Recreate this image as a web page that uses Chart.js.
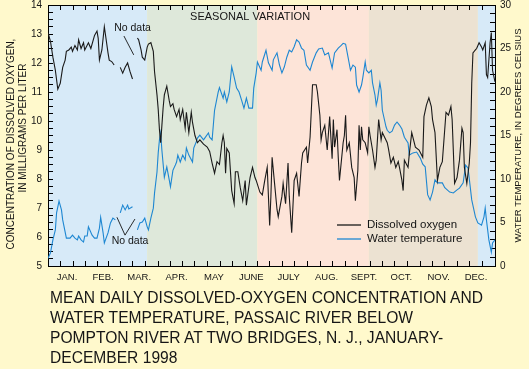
<!DOCTYPE html>
<html>
<head>
<meta charset="utf-8">
<script src="https://cdn.jsdelivr.net/npm/chart.js@4.4.1/dist/chart.umd.min.js"></script>
<style>
  html, body { margin: 0; padding: 0; background: #fff9cc; }
  #wrap { position: relative; width: 529px; height: 369px; overflow: hidden; }
  #caption { position: absolute; left: 50px; top: 288px; margin: 0; font: 15.6px "Liberation Sans", Arial, sans-serif; line-height: 20px; color: #161616; }
</style>
</head>
<body>
<div id="wrap">
  <canvas id="ctx" width="529" height="369"></canvas>
  <p id="caption">MEAN DAILY DISSOLVED-OXYGEN CONCENTRATION AND<br>WATER TEMPERATURE, PASSAIC RIVER BELOW<br>POMPTON RIVER AT TWO BRIDGES, N. J., JANUARY-<br>DECEMBER 1998</p>
</div>
<script>
const monthNames = ["JAN.", "FEB.", "MAR.", "APR.", "MAY", "JUNE", "JULY", "AUG.", "SEPT.", "OCT.", "NOV.", "DEC."];
const monthDays = [31, 28, 31, 30, 31, 30, 31, 31, 30, 31, 30, 31];
const oxygenTicks = [5, 6, 7, 8, 9, 10, 11, 12, 13, 14];
const tempTicks = [0, 5, 10, 15, 20, 25, 30];

// season boundaries, day of year
const seasonBreaks = [0, 81, 171, 262, 351, 365];

// dissolved oxygen, mg/L (null = no data)
const oxygenDays = [0, 2, 4, 6, 8, 10, 12, 14, 15, 17, 19, 20, 22, 24, 25, 27, 29, 30, 33, 35, 38, 40, 41, 42, 44, 46, 49, 50, 52, 54, 57,
  59, 61, 63, 65, 67, 69, 71,
  73, 74, 76, 77, 79, 81, 82, 84, 86, 87, 89, 90, 91, 92, 93, 94, 95, 97, 99, 100, 102, 103, 105, 107, 108, 110, 112, 113, 115, 117, 118, 120,
  122, 124, 127, 130, 132, 134, 136, 138, 140, 142, 143, 144, 145, 146, 148, 150, 152, 153, 155, 157, 159, 161, 162, 165, 167, 169, 170,
  173, 175, 177, 179, 180, 181, 182, 183, 185, 187, 188, 191, 192, 194, 196, 197, 199, 200, 201, 203, 205, 207, 208, 211, 212, 214, 216,
  219, 220, 222, 223, 224, 226, 228, 230, 232, 233, 234, 236, 237, 238, 241, 242, 243, 244, 246, 248, 250, 251, 253, 254, 255, 256, 257,
  259, 261, 262, 263, 265, 267, 268, 270, 272, 273, 277, 278, 280, 282, 284, 286, 287, 289, 290, 291, 294, 295, 297, 300, 303, 306, 307,
  309, 311, 313, 314, 316, 318, 320, 322, 325, 327, 329, 330, 332, 334, 336, 338, 339, 340, 342, 344, 345, 346, 347, 349, 350, 352, 354,
  355, 357, 358, 359, 361, 362, 363, 365];
const oxygenValues = [13.05, 12.75, 12.2, 11.75, 11.1, 11.3, 11.85, 12.1, 12.4, 12.45, 12.55, 12.4, 12.6, 12.45, 12.8, 12.5, 12.7, 12.45, 12.7, 12.5, 12.95, 13.1, 12.85, 12.1, 12.45, 13.25, 12.35, 12.1, 12.05, 11.93, null,
  11.85, 11.65, 11.85, 12.0, 11.7, 11.45, null,
  12.86, 12.8, 12.45, 12.2, 12.1, 12.55, 12.65, 12.7, 12.4, 11.7, 10.9, 10.4, 9.7, 9.25, 9.85, 10.45, 10.9, 11.2, 10.7, 10.5, 10.6, 10.4, 10.15, 10.4, 10.05, 10.4, 9.75, 10.3, 9.6, 10.3, 9.95, 9.5,
  9.25, 9.35, 9.2, 9.1, 8.95, 8.55, 8.2, 8.6, 8.5, 9.25, 9.5, 9.25, 8.2, 9.05, 8.9, 7.6, 7.15, 8.25, 8.25, 7.7, 7.25, 7.95, 7.1, 8.05, 8.4, 8.05, 7.95,
  7.55, 7.45, 7.95, 8.4, 7.4, 6.4, 7.4, 8.75, 7.85, 6.95, 6.7, 7.4, 7.85, 7.15, 8.55, 7.4, 6.15, 7.05, 7.95, 8.2, 7.4, 8.55, 8.9, 9.1, 8.55, 9.45, 11.25,
  11.25, 11.0, 10.2, 9.35, 9.6, 9.85, 9.0, 10.15, 8.7, 10.05, 9.1, 9.7, 8.75, 7.95, 9.25, 9.5, 10.2, 9.0, 9.25, 8.4, 8.05, 7.25, 8.3, 9.85, 9.0, 9.8, 9.35,
  9.25, 8.9, 9.8, 9.5, 9.0, 8.4, 8.65, 10.05, 9.35, 9.6, 9.25, 9.05, 8.55, 8.75, 8.4, 8.6, 8.4, 7.95, 7.6, 8.65, 8.4, 8.85, 9.6, 9.1, 9.0, 8.75, 10.15,
  10.55, 10.8, 10.5, 10.05, 9.6, 7.95, 8.4, 8.6, 10.3, 10.2, 10.5, 10.05, 7.85, 8.05, 8.65, 9.75, 9.6, 8.4, 7.85, 8.55, 9.25, 11.3, 12.35, 12.45, 12.5, 12.7, 12.55,
  12.45, 12.7, 11.6, 11.5, 12.7, 13.05, 11.75, 11.35];

// water temperature, degrees Celsius (null = no data)
const tempDays = [0, 2, 4, 6, 7, 9, 11, 12, 15, 18, 20, 22, 24, 25, 27, 29, 30, 32, 33, 36, 38, 40, 42, 43, 45, 46, 49, 51, 53, 55, 57,
  59, 61, 63, 65, 66, 69, 71,
  73, 75, 77, 79, 81, 82, 84, 86, 87, 89, 90, 91, 92, 93, 95, 97, 99, 100, 102, 104, 105, 106, 108, 110, 112, 113, 115, 118, 119, 121, 122,
  124, 127, 128, 131, 132, 134, 136, 139, 140, 143, 144, 146, 148, 150, 152, 154, 156, 158, 160, 162, 164, 167, 168, 170, 171, 174, 175,
  178, 180, 183, 184, 187, 189, 191, 193, 195, 197, 199, 201, 203, 205, 207, 209, 211, 214, 216, 219, 221, 224, 226, 229, 232, 234, 237,
  239, 241, 243, 245, 247, 249, 251, 252, 254, 256, 257, 259, 260, 262, 264, 265, 267, 268, 269, 271, 272, 273, 276, 277, 279, 281, 283,
  285, 287, 289, 291, 294, 295, 298, 301, 304, 306, 308, 310, 312, 314, 316, 318, 322, 324, 328, 331, 334, 336, 339, 341, 343, 346, 349,
  351, 354, 356, 357, 358, 360, 362, 363, 365];
const tempValues = [0.9, 1.5, 3.0, 4.15, 6.1, 7.45, 6.45, 5.3, 3.2, 3.2, 3.55, 3.2, 3.0, 3.45, 3.0, 2.75, 3.45, 3.45, 4.5, 3.55, 3.2, 3.2, 4.35, 5.6, 3.8, 2.65, 3.8, 4.95, 5.5, 5.3, null,
  6.1, 7.0, 6.45, 7.0, 6.55, 6.8, null,
  4.15, 4.95, 5.05, 5.5, 4.5, 4.15, 5.5, 6.65, 8.4, 10.8, 13.0, 14.5, 15.3, 13.3, 10.2, 11.4, 9.9, 9.1, 11.0, 11.6, 11.95, 12.75, 11.95, 12.75, 12.2, 13.55, 12.75, 11.95, 13.55, 14.25, 14.7,
  15.05, 14.5, 14.7, 15.3, 14.8, 14.5, 17.9, 20.0, 20.5, 19.3, 20.0, 18.85, 20.0, 22.9, 21.7, 20.45, 20.0, 19.1, 18.15, 19.3, 18.15, 18.15, 20.45, 22.2, 23.45, 22.5, 23.45,
  24.8, 23.35, 22.5, 23.7, 24.5, 23.1, 22.2, 22.9, 24.0, 24.8, 24.6, 25.2, 26.0, 25.75, 25.05, 24.8, 23.1, 22.5, 23.45, 24.5, 24.95, 25.05, 24.25, 24.5, 22.75, 24.5, 25.05,
  25.3, 25.6, 25.5, 24.0, 22.5, 23.1, 22.85, 20.8, 20.0, 20.8, 21.6, 23.45, 22.5, 22.2, 22.5, 21.05, 19.65, 18.5, 19.1, 21.05, 20.2, 17.9, 16.0, 15.6, 15.3, 15.5, 16.2,
  16.55, 16.2, 15.75, 14.8, 14.15, 12.75, 13.0, 13.1, 12.4, 11.7, 11.4, 8.2, 7.6, 8.5, 9.9, 9.55, 9.55, 9.0, 8.5, 8.4, 8.75, 8.95, 9.55, 11.6, 11.25, 7.6, 5.65,
  4.95, 4.7, 5.65, 6.65, 5.3, 3.0, 1.6, 2.65, 3.0];

const family = '"Liberation Sans", Arial, Helvetica, sans-serif';
const seasonColors = ["#d7eaf8", "#dee8da", "#fde4d8", "#ece2d2", "#d7eaf8"];

// month ticks: start, thirds, and an unmarked tick at mid-month carrying the label
const monthMids = [];
const xTickValues = [];
let acc = 0;
for (let i = 0; i < monthDays.length; i++) {
  const len = monthDays[i];
  monthMids.push(acc + len / 2);
  xTickValues.push(acc, acc + len / 3, acc + len / 2, acc + (2 * len) / 3);
  acc += len;
}
xTickValues.push(acc);

function midIndex(v) {
  for (let i = 0; i < monthMids.length; i++) {
    if (Math.abs(monthMids[i] - v) < 0.001) return i;
  }
  return -1;
}

function minorTicks(major, step) {
  const out = [];
  for (let i = 0; i < major.length - 1; i++) {
    for (let v = major[i]; v < major[i + 1] - 1e-9; v += step) out.push(v);
  }
  out.push(major[major.length - 1]);
  return out;
}

const xGrid = {
  drawOnChartArea: false,
  tickLength: -5,
  tickWidth: 1,
  tickColor: (c) => (c.tick && midIndex(c.tick.value) >= 0 ? "rgba(0,0,0,0)" : "#000"),
};

const overlay = {
  id: "overlay",
  beforeDraw(chart) {
    const { ctx, chartArea: a } = chart;
    const x = chart.scales.x;
    ctx.save();
    for (let i = 0; i < seasonColors.length; i++) {
      const x0 = x.getPixelForValue(seasonBreaks[i]);
      const x1 = x.getPixelForValue(seasonBreaks[i + 1]);
      ctx.fillStyle = seasonColors[i];
      ctx.fillRect(x0, a.top, x1 - x0, a.bottom - a.top);
    }
    ctx.restore();
  },
  afterDatasetsDraw(chart) {
    const { ctx, chartArea: a } = chart;
    const x = chart.scales.x;
    const y = chart.scales.y;
    const y2 = chart.scales.y2;
    ctx.save();
    ctx.fillStyle = "#151515";
    ctx.strokeStyle = "#151515";
    ctx.lineWidth = 0.9;
    ctx.textBaseline = "middle";

    ctx.font = "11px " + family;
    ctx.textAlign = "center";
    ctx.fillText("SEASONAL VARIATION", x.getPixelForValue(165), a.top + 12);

    ctx.font = "10.5px " + family;
    ctx.textAlign = "left";
    ctx.fillText("No data", x.getPixelForValue(54), y.getPixelForValue(13.2));
    ctx.beginPath();
    ctx.moveTo(x.getPixelForValue(62), y.getPixelForValue(12.93));
    ctx.lineTo(x.getPixelForValue(70), y.getPixelForValue(12.28));
    ctx.stroke();

    ctx.fillText("No data", x.getPixelForValue(52), y2.getPixelForValue(2.9));
    ctx.beginPath();
    ctx.moveTo(x.getPixelForValue(56.3), y2.getPixelForValue(5.6));
    ctx.lineTo(x.getPixelForValue(62.9), y2.getPixelForValue(3.55));
    ctx.lineTo(x.getPixelForValue(71), y2.getPixelForValue(5.4));
    ctx.stroke();

    // legend
    ctx.font = "11.5px " + family;
    const lx = a.right - 158;
    chart.data.datasets.forEach((ds, i) => {
      const ly = a.bottom - 41 + i * 14;
      ctx.strokeStyle = ds.borderColor;
      ctx.lineWidth = 1.3;
      ctx.beginPath();
      ctx.moveTo(lx, ly);
      ctx.lineTo(lx + 24, ly);
      ctx.stroke();
      ctx.fillText(ds.label, lx + 30, ly);
    });
    ctx.restore();
  },
  afterDraw(chart) {
    const { ctx, chartArea: a } = chart;
    ctx.save();
    ctx.fillStyle = "#151515";
    ctx.textAlign = "center";
    ctx.textBaseline = "middle";
    ctx.font = "10px " + family;
    ctx.translate(11, 144);
    ctx.rotate(-Math.PI / 2);
    ctx.fillText("CONCENTRATION OF DISSOLVED OXYGEN,", 0, 0);
    ctx.fillText("IN MILLIGRAMS PER LITER", 16, 12);
    ctx.restore();

    ctx.save();
    ctx.fillStyle = "#151515";
    ctx.textAlign = "center";
    ctx.textBaseline = "middle";
    ctx.font = "9.5px " + family;
    ctx.translate(a.right + 23, (a.top + a.bottom) / 2);
    ctx.rotate(-Math.PI / 2);
    ctx.fillText("WATER TEMPERATURE, IN DEGREES CELSIUS", 0, 0);
    ctx.restore();
  },
};

// keep the chart area tight against the frame: the y label padding
// would otherwise push the top of the plot down
function fixY(width) {
  return (s) => {
    s.width = width;
    s.paddingTop = 0;
    s.paddingBottom = 0;
  };
}

new Chart(document.getElementById("ctx"), {
  type: "line",
  data: {
    datasets: [
      {
        label: "Dissolved oxygen",
        data: oxygenDays.map((d, i) => ({ x: d, y: oxygenValues[i] })),
        borderColor: "#1a1a1a",
        borderWidth: 1.1,
        pointRadius: 0,
        tension: 0,
        spanGaps: false,
        yAxisID: "y",
        xAxisID: "x",
      },
      {
        label: "Water temperature",
        data: tempDays.map((d, i) => ({ x: d, y: tempValues[i] })),
        borderColor: "#1e87d2",
        borderWidth: 1.1,
        pointRadius: 0,
        tension: 0,
        spanGaps: false,
        yAxisID: "y2",
        xAxisID: "x",
      },
    ],
  },
  options: {
    responsive: false,
    devicePixelRatio: 1,
    animation: false,
    layout: { padding: 0 },
    plugins: { legend: { display: false }, tooltip: { enabled: false } },
    scales: {
      x: {
        type: "linear",
        position: "bottom",
        min: 0,
        max: 365,
        afterBuildTicks: (s) => { s.ticks = xTickValues.map((v) => ({ value: v })); },
        afterFit: (s) => { s.height = 103; },
        grid: xGrid,
        border: { display: true, color: "#000", width: 1 },
        ticks: {
          autoSkip: false,
          maxRotation: 0,
          padding: 11,
          color: "#151515",
          font: { family: family, size: 9.5 },
          callback: (v) => { const i = midIndex(v); return i >= 0 ? monthNames[i] : ""; },
        },
      },
      x2: {
        type: "linear",
        position: "top",
        min: 0,
        max: 365,
        afterBuildTicks: (s) => { s.ticks = xTickValues.map((v) => ({ value: v })); },
        afterFit: (s) => { s.height = 5; },
        grid: xGrid,
        border: { display: true, color: "#000", width: 1 },
        ticks: { display: false },
      },
      y: {
        position: "left",
        min: 5,
        max: 14,
        afterBuildTicks: (s) => { s.ticks = minorTicks(oxygenTicks, 0.25).map((v) => ({ value: v })); },
        afterFit: fixY(48),
        grid: { drawOnChartArea: false, tickLength: -5, tickColor: "#000" },
        border: { display: true, color: "#000", width: 1 },
        ticks: {
          autoSkip: false,
          padding: 11,
          color: "#151515",
          font: { family: family, size: 10 },
          callback: (v) => (oxygenTicks.includes(v) ? String(v) : ""),
        },
      },
      y2: {
        position: "right",
        min: 0,
        max: 30,
        afterBuildTicks: (s) => { s.ticks = minorTicks(tempTicks, 1).map((v) => ({ value: v })); },
        afterFit: fixY(34),
        grid: { drawOnChartArea: false, tickLength: -5, tickColor: "#000" },
        border: { display: true, color: "#000", width: 1 },
        ticks: {
          autoSkip: false,
          padding: 10,
          color: "#151515",
          font: { family: family, size: 10 },
          callback: (v) => (tempTicks.includes(v) ? String(v) : ""),
        },
      },
    },
  },
  plugins: [overlay],
});
</script>
</body>
</html>
